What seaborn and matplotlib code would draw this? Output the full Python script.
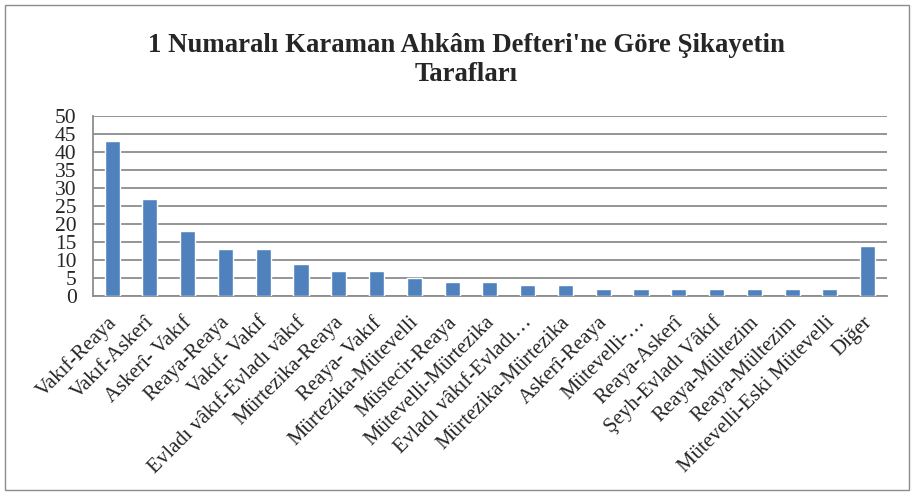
import pandas as pd
import matplotlib
matplotlib.use("Agg")
import matplotlib.pyplot as plt
import matplotlib.transforms as mtransforms
from matplotlib.patches import Rectangle
import seaborn as sns

# --- data ---
categories = [
    "Vakıf-Reaya", "Vakıf-Askerî", "Askerî- Vakıf", "Reaya-Reaya", "Vakıf- Vakıf",
    "Evladı vâkıf-Evladı vâkıf", "Mürtezika-Reaya", "Reaya- Vakıf",
    "Mürtezika-Mütevelli", "Müstecir-Reaya", "Mütevelli-Mürtezika",
    "Evladı vâkıf-Evladı…", "Mürtezika-Mürtezika", "Askerî-Reaya", "Mütevelli-…",
    "Reaya-Askerî", "Şeyh-Evladı Vâkıf", "Reaya-Mültezim", "Reaya-Mültezim",
    "Mütevelli-Eski Mütevelli", "Diğer",
]
counts = [43, 27, 18, 13, 13, 9, 7, 7, 5, 4, 4, 3, 3, 2, 2, 2, 2, 2, 2, 2, 14]
y_ticks = [0, 5, 10, 15, 20, 25, 30, 35, 40, 45, 50]

title = "1 Numaralı Karaman Ahkâm Defteri'ne Göre Şikayetin\nTarafları"

# positions as strings so the two "Reaya-Mültezim" bars stay separate
df = pd.DataFrame({"pos": [str(i) for i in range(len(categories))], "count": counts})

sns.set_style("white")
plt.rcParams["font.family"] = ["Liberation Serif", "DejaVu Serif"]

fig = plt.figure(figsize=(9.14, 4.97), dpi=100)
ax = fig.add_axes([0.102, 0.404, 0.868, 0.362])

sns.barplot(data=df, x="pos", y="count", color="#4F81BD", saturation=1,
            width=0.4, ax=ax, zorder=3)

ax.set_ylim(0, 50)
ax.set_yticks(y_ticks)
ax.set_yticklabels([str(v) for v in y_ticks], fontsize=15.5)
ax.set_xlim(-0.5, len(categories) - 0.5)
ax.yaxis.grid(True, color="#8C8C8C", linewidth=1.3, zorder=0)

# excel-style tick marks between categories
ax.set_xticks([i - 0.5 for i in range(len(categories) + 1)], minor=False)
ax.set_xticklabels([])
ax.set_xticks(range(len(categories)), minor=True)
ax.set_xticklabels(categories, minor=True, rotation=45, ha="right",
                   rotation_mode="anchor", fontsize=15)
ax.tick_params(axis="x", which="major", length=5, color="#8C8C8C", width=1.2)
ax.tick_params(axis="x", which="minor", length=0, pad=12)
ax.tick_params(axis="y", length=7, color="#8C8C8C", width=1.2, pad=5)

# nudge rotated labels a little to the left
shift = mtransforms.ScaledTranslation(-5 / 100, 0, fig.dpi_scale_trans)
for lbl in ax.get_xticklabels(minor=True):
    lbl.set_transform(lbl.get_transform() + shift)

for side in ["top", "right"]:
    ax.spines[side].set_visible(False)
for side in ["left", "bottom"]:
    ax.spines[side].set_color("#8C8C8C")
    ax.spines[side].set_linewidth(1.3)

ax.set_xlabel("")
ax.set_ylabel("")

fig.text(0.51, 0.934, title, ha="center", va="top", fontsize=19.3,
         fontweight="bold", linespacing=1.2)

# outer chart border
fig.patches.append(Rectangle((0.006, 0.014), 0.988, 0.975, transform=fig.transFigure,
                             fill=False, edgecolor="#8C8C8C", linewidth=1.0))

fig.savefig("out.png", dpi=100)
